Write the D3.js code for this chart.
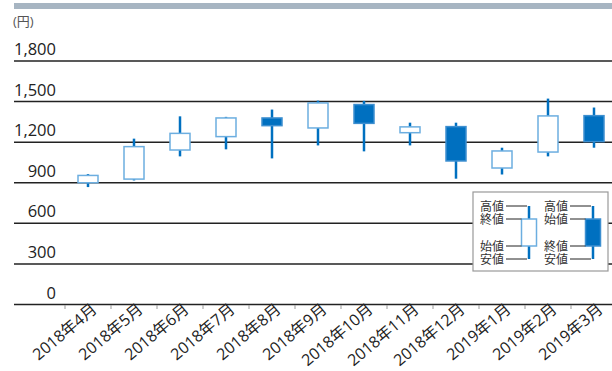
<!DOCTYPE html>
<html><head><meta charset="utf-8">
<script src="https://cdn.jsdelivr.net/npm/d3@7"></script>
<style>body{margin:0;background:#fff}svg{display:block}text{font-family:"Open Sans","Noto Sans CJK JP",sans-serif}</style>
</head><body>
<svg id="c" width="612" height="371"></svg>
<script>
const months = ["2018年4月","2018年5月","2018年6月","2018年7月","2018年8月","2018年9月","2018年10月","2018年11月","2018年12月","2019年1月","2019年2月","2019年3月"];
const openV  = [900, 927, 1142, 1241, 1379, 1305, 1478, 1270, 1315, 1009, 1127, 1396];
const closeV = [954, 1167, 1265, 1379, 1322, 1490, 1339, 1313, 1061, 1135, 1394, 1204];
const highV  = [964, 1226, 1391, 1387, 1441, 1507, 1505, 1344, 1344, 1159, 1522, 1456];
const lowV   = [868, 917, 1095, 1147, 1080, 1176, 1132, 1176, 930, 961, 1095, 1159];
const yTicks = [0, 300, 600, 900, 1200, 1500, 1800];
const unitLabel = "(円)";
const legendLabelsUp = ["高値","終値","始値","安値"];
const legendLabelsDown = ["高値","始値","終値","安値"];

const svg = d3.select("#c");
const blue = "#0070C0", light = "#6CAEE0";
const x = d3.scaleBand().domain(months).range([65, 617]).paddingInner(0);
const y = d3.scaleLinear().domain([0, 1800]).range([304.5, 61]);

// top bar
svg.append("rect").attr("x",14).attr("y",3).attr("width",598).attr("height",6).attr("fill","#A7B5C2");
svg.append("text").attr("x",13).attr("y",26).attr("font-size",13).attr("fill","#555").text(unitLabel);

// grid + y labels
const g = svg.append("g");
g.selectAll("line.grid").data(yTicks).join("line")
  .attr("x1",14).attr("x2",612).attr("y1",d=>y(d)).attr("y2",d=>y(d))
  .attr("stroke","#222").attr("stroke-width",1.5);
g.selectAll("text.yl").data(yTicks).join("text")
  .attr("x",56).attr("y",d=>y(d)-6).attr("text-anchor","end")
  .attr("font-size",16.5).attr("fill","#222").text(d=>d3.format(",")(d));

// x ticks
svg.selectAll("line.xt").data(months).join("line")
  .attr("x1",d=>x(d)).attr("x2",d=>x(d)).attr("y1",305).attr("y2",309)
  .attr("stroke","#999").attr("stroke-width",1);
svg.selectAll("text.xl").data(months).join("text")
  .attr("text-anchor","end").attr("font-size",16).attr("fill","#222")
  .attr("transform",d=>`translate(${x(d)+x.bandwidth()/2+10},${311}) rotate(-40)`)
  .text(d=>d);

// candles
const data = months.map((m,i)=>({m,o:openV[i],c:closeV[i],h:highV[i],l:lowV[i]}));
const bw = 20;
const cg = svg.append("g");
cg.selectAll("line.w").data(data).join("line")
  .attr("x1",d=>x(d.m)+x.bandwidth()/2).attr("x2",d=>x(d.m)+x.bandwidth()/2)
  .attr("y1",d=>y(d.h)).attr("y2",d=>y(d.l)).attr("stroke",blue).attr("stroke-width",2.5);
cg.selectAll("rect.b").data(data).join("rect")
  .attr("x",d=>x(d.m)+x.bandwidth()/2-bw/2).attr("width",bw)
  .attr("y",d=>y(Math.max(d.o,d.c))).attr("height",d=>Math.abs(y(d.o)-y(d.c)))
  .attr("fill",d=>d.c>=d.o?"#fff":blue).attr("stroke",d=>d.c>=d.o?light:"#3d8fd0").attr("stroke-width",1.5);

// legend
const lg = svg.append("g");
lg.append("rect").attr("x",473).attr("y",192).attr("width",135).attr("height",79)
  .attr("fill","#fff").attr("stroke","#999").attr("stroke-width",1.2);
const ly = [206, 219, 246, 259];
function legendCandle(cx, up, labels, tx){
  lg.append("line").attr("x1",cx).attr("x2",cx).attr("y1",ly[0]).attr("y2",ly[3]).attr("stroke",blue).attr("stroke-width",2.5);
  lg.append("rect").attr("x",cx-7.5).attr("width",15).attr("y",ly[1]).attr("height",ly[2]-ly[1])
    .attr("fill",up?"#fff":blue).attr("stroke",up?light:"#3d8fd0").attr("stroke-width",1.5);
  labels.forEach((t,i)=>{
    lg.append("text").attr("x",tx).attr("y",ly[i]+4.5).attr("font-size",12).attr("fill","#333").text(t);
    lg.append("line").attr("x1",tx+26).attr("x2",(i==0||i==3)?cx-2:cx-7.5).attr("y1",ly[i]).attr("y2",ly[i]).attr("stroke","#222").attr("stroke-width",1);
  });
}
legendCandle(529, true, legendLabelsUp, 480);
legendCandle(593, false, legendLabelsDown, 544);
</script>
</body></html>
